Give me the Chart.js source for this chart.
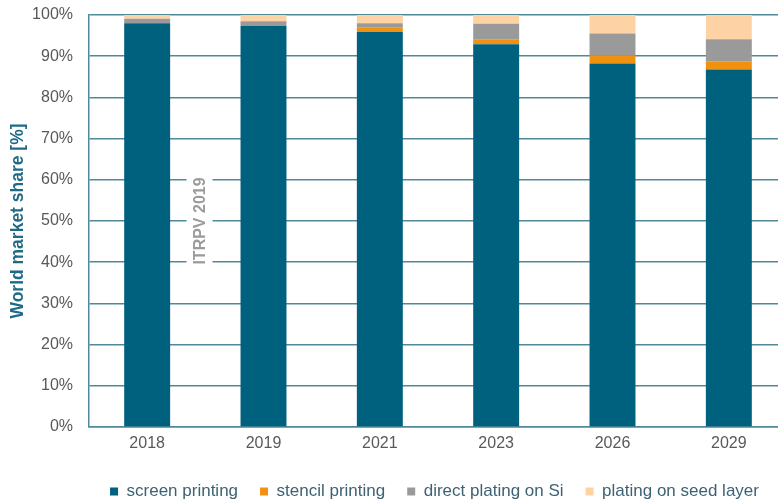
<!DOCTYPE html>
<html>
<head>
<meta charset="utf-8">
<script src="https://cdn.jsdelivr.net/npm/chart.js@4/dist/chart.umd.min.js"></script>
<style>
    html, body {
        margin: 0;
        padding: 0;
        background: #ffffff;
        overflow: hidden;
    }
    .wrap {
        width: 778px;
        height: 504px;
        overflow: hidden;
    }
</style>
</head>
<body>
<div class="wrap">
    <canvas id="chart" width="788" height="504"></canvas>
</div>
<script>
const years = ['2018', '2019', '2021', '2023', '2026', '2029'];
const screenPrinting = [98.0, 97.3, 95.9, 92.9, 88.2, 86.8];
const stencilPrinting = [0, 0, 1.0, 1.2, 2.0, 2.0];
const directPlating = [1.1, 1.2, 1.1, 3.8, 5.3, 5.3];
const seedLayer = [0.9, 1.5, 2.0, 2.1, 4.5, 5.9];
const yTicks = [0, 10, 20, 30, 40, 50, 60, 70, 80, 90, 100];

const gridColor = '#4f899a';
const fontFamily = '"Liberation Sans", Arial, sans-serif';

// grey "ITRPV 2019" stamp between the first two bars
const itrpvLabel = {
    id: 'itrpvLabel',
    beforeDatasetsDraw(chart) {
        const { ctx, scales: { x, y } } = chart;
        const x0 = x.getPixelForValue(0);
        const x1 = x.getPixelForValue(1);
        const cx = x0 + (x1 - x0) * 0.45;
        const cy = y.getPixelForValue(50);

        ctx.save();
        ctx.fillStyle = '#ffffff';
        ctx.fillRect(cx - 13, cy - 50, 26, 100);
        ctx.translate(cx, cy);
        ctx.rotate(-Math.PI / 2);
        ctx.font = `bold 16px ${fontFamily}`;
        ctx.fillStyle = '#9b9b9b';
        ctx.textAlign = 'center';
        ctx.textBaseline = 'middle';
        ctx.fillText('ITRPV 2019', 0, 1);
        ctx.restore();
    },
};

// nudge the legend so it sits where the original one does
const legendShift = {
    id: 'legendShift',
    afterLayout(chart) {
        const legend = chart.legend;
        legend.left += 41;
        legend.right += 41;
        legend.top += 6;
        legend.bottom += 6;
    },
};

new Chart(document.getElementById('chart').getContext('2d'), {
    type: 'bar',
    data: {
        labels: years,
        datasets: [
            { label: 'screen printing', data: screenPrinting, backgroundColor: '#00617f' },
            { label: 'stencil printing', data: stencilPrinting, backgroundColor: '#f0920f' },
            { label: 'direct plating on Si', data: directPlating, backgroundColor: '#9a9a9a' },
            { label: 'plating on seed layer', data: seedLayer, backgroundColor: '#fdd2a4' },
        ],
    },
    options: {
        responsive: false,
        animation: false,
        layout: {
            padding: { top: 15, right: 1, left: 0, bottom: 0 },
        },
        datasets: {
            bar: {
                barPercentage: 0.395,
                categoryPercentage: 1,
                borderWidth: 0,
            },
        },
        plugins: {
            tooltip: { enabled: false },
            legend: {
                position: 'bottom',
                labels: {
                    boxWidth: 8,
                    boxHeight: 8,
                    padding: 22,
                    color: '#3d6273',
                    font: { family: fontFamily, size: 17 },
                },
            },
        },
        scales: {
            x: {
                stacked: true,
                afterFit: (scale) => {
                    scale.height = 28;
                },
                grid: { display: false, drawTicks: false },
                border: { color: gridColor, width: 1.5 },
                ticks: {
                    padding: 7,
                    color: '#595959',
                    font: { family: fontFamily, size: 16 },
                },
            },
            y: {
                stacked: true,
                min: 0,
                max: 100,
                afterFit: (scale) => {
                    scale.width = 89;
                    scale.paddingTop = 0;
                    scale.paddingBottom = 0;
                },
                afterBuildTicks: (scale) => {
                    scale.ticks = yTicks.map((value) => ({ value }));
                },
                grid: { color: gridColor, lineWidth: 1.5, drawTicks: false },
                border: { color: gridColor, width: 1.5 },
                ticks: {
                    padding: 16,
                    color: '#595959',
                    font: { family: fontFamily, size: 16 },
                    callback: (value) => `${value}%`,
                },
                title: {
                    display: true,
                    text: 'World market share [%]',
                    color: '#1f6b85',
                    padding: { top: 8, bottom: 0 },
                    font: { family: fontFamily, size: 17.5, weight: 'bold' },
                },
            },
        },
    },
    plugins: [itrpvLabel, legendShift],
});
</script>
</body>
</html>
